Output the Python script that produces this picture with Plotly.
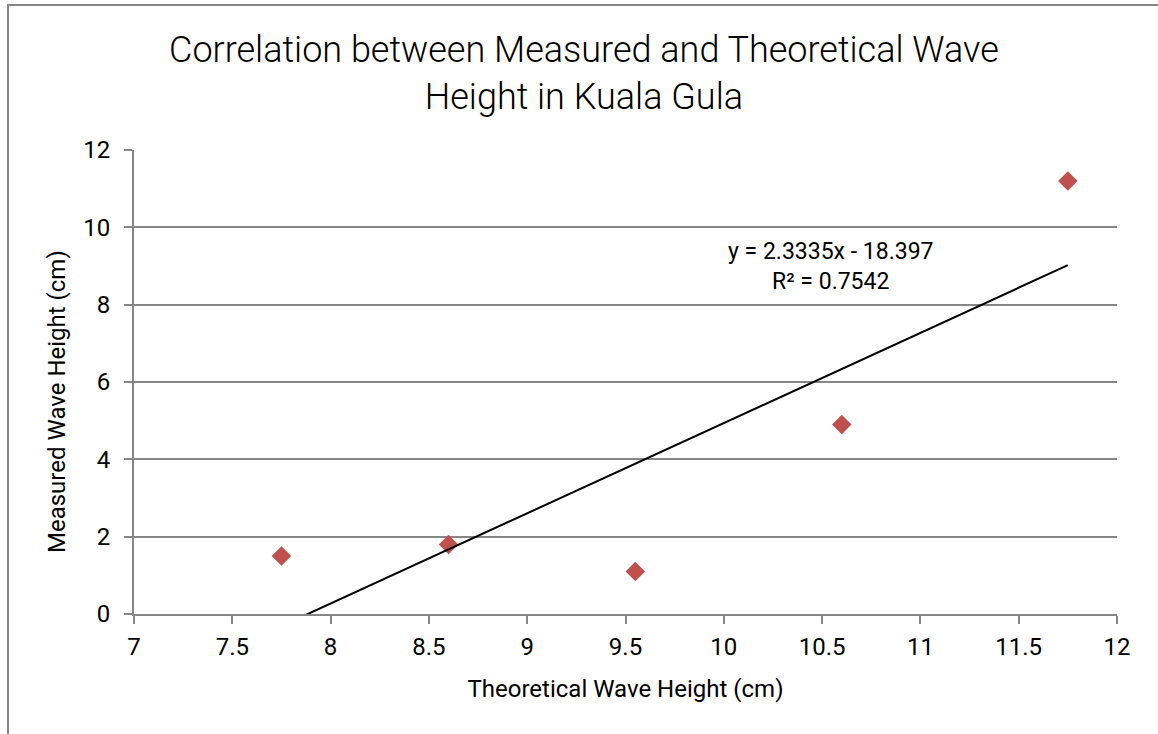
import plotly.graph_objects as go

# Data
theoretical = [7.75, 8.6, 9.55, 10.6, 11.75]
measured = [1.5, 1.8, 1.1, 4.9, 11.2]
slope = 2.3335
intercept = -18.397
r_squared = 0.7542
x_ticks = [7, 7.5, 8, 8.5, 9, 9.5, 10, 10.5, 11, 11.5, 12]
y_ticks = [0, 2, 4, 6, 8, 10, 12]

trend_x = [min(theoretical), max(theoretical)]
trend_y = [slope * x + intercept for x in trend_x]

FONT = "Roboto"
GRAY = "#868686"
W, H = 1158, 734
L, R, T, B = 134, 41, 150, 120
PW, PH = W - L - R, H - T - B

fig = go.Figure()
fig.add_trace(go.Scatter(x=theoretical, y=measured, mode="markers",
                         marker=dict(symbol="diamond", size=15, color="#C0504D"),
                         showlegend=False, cliponaxis=False))
fig.add_trace(go.Scatter(x=trend_x, y=trend_y, mode="lines",
                         line=dict(color="black", width=2), showlegend=False))

fig.update_layout(
    width=W, height=H,
    margin=dict(l=L, r=R, t=T, b=B),
    paper_bgcolor="white", plot_bgcolor="white",
    font=dict(family=FONT, color="#000000", size=24),
    xaxis=dict(range=[7, 12], tickvals=x_ticks, ticktext=[f"{v:g}" for v in x_ticks],
               showgrid=False, zeroline=False, showline=True, linecolor=GRAY, linewidth=2,
               ticks="outside", ticklen=8, tickcolor=GRAY, tickwidth=2,
               tickfont=dict(size=24, family=FONT), ticklabelstandoff=2,
               title=dict(text="Theoretical Wave Height (cm)", font=dict(size=24, family=FONT), standoff=20)),
    yaxis=dict(range=[0, 12], tickvals=y_ticks, showgrid=True, gridcolor=GRAY, gridwidth=2,
               zeroline=False, showline=True, linecolor=GRAY, linewidth=2,
               ticks="outside", ticklen=8, tickcolor=GRAY, tickwidth=2,
               tickfont=dict(size=24, family=FONT), ticklabelstandoff=9),
    annotations=[
        dict(text="Correlation between Measured and Theoretical Wave<br>Height in Kuala Gula",
             showarrow=False, xref="paper", yref="paper",
             x=(584 - L) / PW, y=(H - B - 73) / PH, xanchor="center", yanchor="middle",
             font=dict(size=36, family=FONT, weight=300)),
        dict(text="Measured Wave Height (cm)", textangle=-90, showarrow=False,
             xref="paper", yref="paper", x=(57 - L) / PW, y=(H - B - 402) / PH,
             xanchor="center", yanchor="middle", font=dict(size=24, family=FONT)),
        dict(text=f"y = {slope}x - {abs(intercept)}<br>R² = {r_squared}", showarrow=False,
             xref="paper", yref="paper", x=(830 - L) / PW, y=(H - B - 266) / PH,
             xanchor="center", yanchor="middle", font=dict(size=23, family=FONT)),
    ],
    shapes=[dict(type="rect", xref="paper", yref="paper",
                 x0=(8 - L) / PW, x1=1.3, y0=-0.5, y1=(H - B - 5) / PH,
                 line=dict(color=GRAY, width=2), fillcolor="rgba(0,0,0,0)", layer="below")],
)

fig.write_html("out.html")
